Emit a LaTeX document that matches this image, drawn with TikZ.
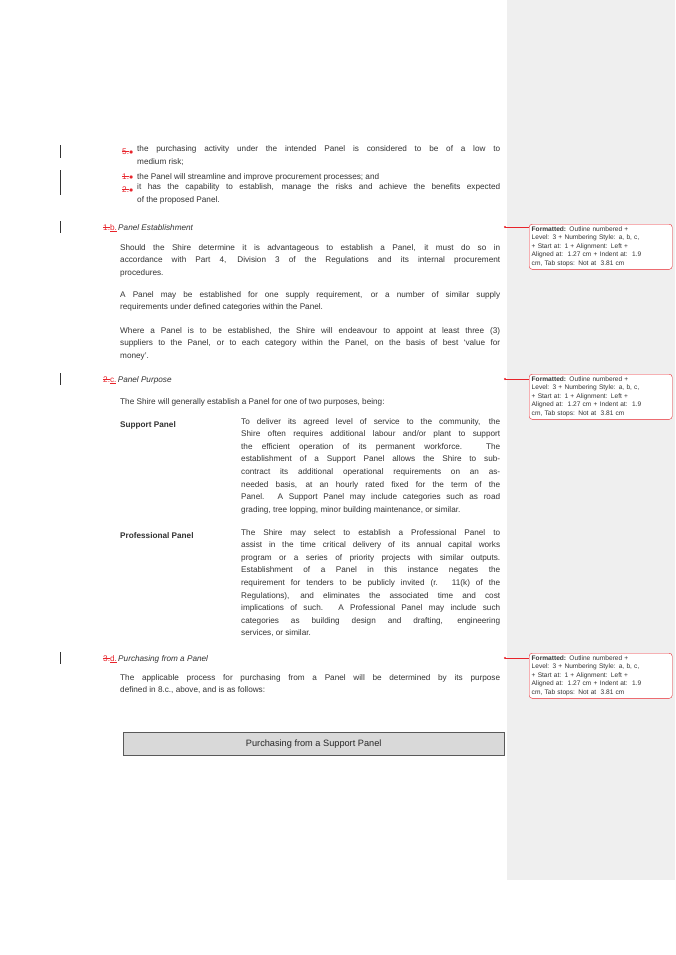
\documentclass[tikz,border=0pt]{standalone}
\usepackage{fontspec}
\setmainfont{Liberation Sans}
\definecolor{txt}{HTML}{333333}
\definecolor{trk}{HTML}{E8242B}
\definecolor{side}{HTML}{EFEFEF}
\newcommand{\del}[1]{\textcolor{trk}{\setbox0\hbox{#1}\rlap{\rule[0.28em]{\wd0}{0.4pt}}\box0}}
\newcommand{\ins}[1]{\textcolor{trk}{\setbox0\hbox{#1}\rlap{\rule[-1.6pt]{\wd0}{0.4pt}}\box0}}
\newcommand{\ctext}{\textbf{Formatted:} Outline numbered +\\ Level: 3 + Numbering Style: a, b, c,\\ + Start at: 1 + Alignment: Left +\\ Aligned at:\ \ 1.27 cm + Indent at:\ \ 1.9\\ cm, Tab stops: Not at\ \ 3.81 cm}
\begin{document}
\begin{tikzpicture}[x=1pt,y=-1pt,
  body/.style={anchor=north west,inner sep=0pt,text=txt,align=justify,font=\fontsize{8.2}{12.6}\selectfont},
  ln/.style={anchor=base west,inner sep=0pt,text=txt,font=\fontsize{8.2}{12.6}\selectfont},
  cmt/.style={draw=trk,rounded corners=3pt,fill=white,anchor=north west,text width=138pt,inner sep=2.5pt,align=left,font=\fontsize{6.6}{8.5}\selectfont,text=txt},
  bar/.style={draw=txt,line width=0.5pt},
  lead/.style={draw=trk,line width=0.5pt}]
\useasboundingbox (0,0) rectangle (675,955);
\fill[white] (0,0) rectangle (675,955);
\fill[side] (507,0) rectangle (675,880);
% change bars
\foreach \a/\b in {145/158,170/195,221/233,373/385,652/664} \draw[bar] (60,\a) -- (60,\b);
% list items
\node[ln] (m5) at (122,154) {\del{5.}\textcolor{trk}{$\bullet$}};
\node[body,text width=363pt] (i5) at (137,145.5) {the purchasing activity under the intended Panel is considered to be of a low to\linebreak medium risk;};
\node[ln] (m1) at (122,179) {\del{1.}\textcolor{trk}{$\bullet$}};
\node[ln] (i1) at (137,179) {the Panel will streamline and improve procurement processes; and};
\node[ln] (m2) at (122,192) {\del{2.}\textcolor{trk}{$\bullet$}};
\node[body,text width=363pt] (i2) at (137,183.5) {it has the capability to establish, manage the risks and achieve the benefits expected\linebreak of the proposed Panel.};
% b
\node[ln] (hb) at (103,230) {\del{1.}\ins{b.}\,\textit{Panel Establishment}};
\node[body,text width=380pt] (pb1) at (120,244) {Should the Shire determine it is advantageous to establish a Panel, it must do so in\linebreak accordance with Part 4, Division 3 of the Regulations and its internal procurement\linebreak procedures.};
\node[body,text width=380pt] (pb2) at (120,291) {A Panel may be established for one supply requirement, or a number of similar supply\linebreak requirements under defined categories within the Panel.};
\node[body,text width=380pt] (pb3) at (120,327) {Where a Panel is to be established, the Shire will endeavour to appoint at least three (3)\linebreak suppliers to the Panel, or to each category within the Panel, on the basis of best `value for\linebreak money'.};
% c
\node[ln] (hc) at (103,382) {\del{2.}\ins{c.}\,\textit{Panel Purpose}};
\node[ln] (pc) at (120,404) {The Shire will generally establish a Panel for one of two purposes, being:};
\node[ln] (sp) at (120,427) {\textbf{Support Panel}};
\node[body,text width=259pt] (spd) at (241,418) {To deliver its agreed level of service to the community, the\linebreak Shire often requires additional labour and/or plant to support\linebreak the efficient operation of its permanent workforce. The\linebreak establishment of a Support Panel allows the Shire to sub-\linebreak contract its additional operational requirements on an as-\linebreak needed basis, at an hourly rated fixed for the term of the\linebreak Panel. A Support Panel may include categories such as road\linebreak grading, tree lopping, minor building maintenance, or similar.};
\node[ln] (pp) at (120,538) {\textbf{Professional Panel}};
\node[body,text width=259pt] (ppd) at (241,529) {The Shire may select to establish a Professional Panel to\linebreak assist in the time critical delivery of its annual capital works\linebreak program or a series of priority projects with similar outputs.\linebreak Establishment of a Panel in this instance negates the\linebreak requirement for tenders to be publicly invited (r. 11(k) of the\linebreak Regulations), and eliminates the associated time and cost\linebreak implications of such. A Professional Panel may include such\linebreak categories as building design and drafting, engineering\linebreak services, or similar.};
% d
\node[ln] (hd) at (103,661) {\del{3.}\ins{d.}\,\textit{Purchasing from a Panel}};
\node[body,text width=380pt] (pd) at (120,674) {The applicable process for purchasing from a Panel will be determined by its purpose\linebreak defined in 8.c., above, and is as follows:};
\node[draw=gray!70!black,fill=black!15,minimum width=381pt,minimum height=23pt,anchor=north west,inner sep=0pt,font=\fontsize{9.2}{10}\selectfont,text=black!85] (box) at (123,732) {Purchasing from a Support Panel};
% comments
\node[cmt] (c1) at (529,224) {\ctext};
\node[cmt] (c2) at (529,374) {\ctext};
\node[cmt] (c3) at (529,653) {\ctext};
\coordinate (d1) at (505,227); \coordinate (d2) at (505,379); \coordinate (d3) at (505,658);
\foreach \d/\c in {d1/c1,d2/c2,d3/c3}{
  \fill[trk] (\d) circle (1.2pt);
  \draw[lead] (\d) -- (\c.north west |- \d);
}
\end{tikzpicture}
\end{document}
